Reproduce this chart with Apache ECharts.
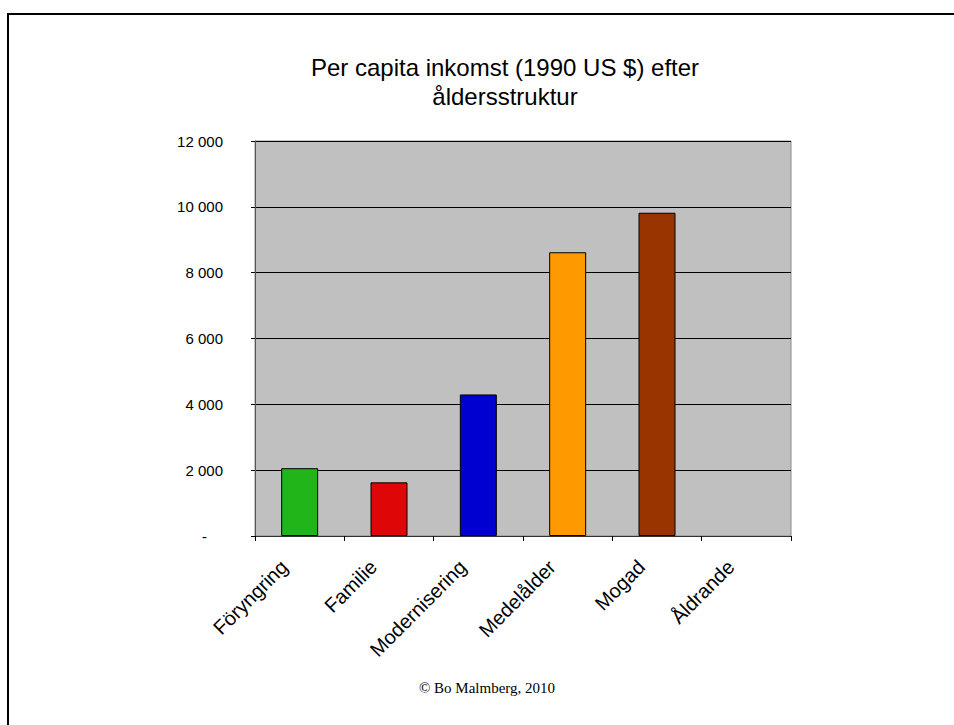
<!DOCTYPE html>
<html>
<head>
<meta charset="utf-8">
<script src="https://cdn.jsdelivr.net/npm/echarts@6/dist/echarts.min.js"></script>
<style>
html,body{margin:0;padding:0;background:#fff;}
#chart{width:954px;height:725px;}
</style>
</head>
<body>
<div id="chart"></div>
<script>
const categories = ['Föryngring', 'Familie', 'Modernisering', 'Medelålder', 'Mogad', 'Åldrande'];
const incomeValues = [2060, 1630, 4300, 8620, 9820, null];
const yTickValues = [0, 2000, 4000, 6000, 8000, 10000, 12000];
const yTickLabels = ['-', '2 000', '4 000', '6 000', '8 000', '10 000', '12 000'];
const titleLines = ['Per capita inkomst (1990 US $) efter', 'åldersstruktur'];
const footerText = '© Bo Malmberg, 2010';

const barColors = ['#21B51A', '#DE0606', '#0000D0', '#FF9900', '#993300', '#999999'];

const chart = echarts.init(document.getElementById('chart'), null, {renderer: 'svg'});
chart.setOption({
  animation: false,
  backgroundColor: '#ffffff',
  title: {
    text: titleLines.join('\n'),
    left: 500,
    top: 48,
    textAlign: 'center',
    textStyle: {
      fontFamily: 'Liberation Sans, Arial, sans-serif',
      fontSize: 24,
      fontWeight: 'normal',
      color: '#000',
      lineHeight: 29
    }
  },
  grid: {
    left: 255, right: 163, top: 141, bottom: 189,
    show: true,
    backgroundColor: '#C0C0C0',
    borderColor: '#8c8c8c',
    borderWidth: 1
  },
  xAxis: {
    type: 'category',
    data: categories,
    axisLine: {show: true, lineStyle: {color: '#333', width: 1}},
    axisTick: {show: true, length: 5, lineStyle: {color: '#000'}},
    axisLabel: {
      rotate: 45,
      interval: 0,
      margin: 12,
      padding: [0, 22, 0, 0],
      fontFamily: 'Liberation Sans, Arial, sans-serif',
      fontSize: 20,
      color: '#000'
    }
  },
  yAxis: {
    type: 'value',
    min: 0, max: 12000, interval: 2000,
    axisLine: {show: true, lineStyle: {color: '#555', width: 1}},
    axisTick: {show: true, length: 4, lineStyle: {color: '#000'}},
    splitLine: {show: true, lineStyle: {color: '#000', width: 1}},
    axisLabel: {
      margin: 32,
      fontFamily: 'Liberation Sans, Arial, sans-serif',
      fontSize: 15,
      color: '#000',
      formatter: function (v) {
        const i = yTickValues.indexOf(v);
        if (i < 0) return '';
        return v === 0 ? '{z|' + yTickLabels[i] + '}' : yTickLabels[i];
      },
      rich: {
        z: {fontFamily: 'Liberation Sans, Arial, sans-serif', fontSize: 15, color: '#000', padding: [0, 16, 0, 0]}
      }
    }
  },
  series: [{
    type: 'bar',
    barWidth: 37,
    data: incomeValues.map(function (v, i) {
      return {value: v, itemStyle: {color: barColors[i], borderColor: '#000', borderWidth: 1}};
    })
  }],
  graphic: [
    {type: 'line', shape: {x1: 7, y1: 14, x2: 954, y2: 14}, style: {stroke: '#000', lineWidth: 2}},
    {type: 'line', shape: {x1: 8, y1: 13, x2: 8, y2: 725}, style: {stroke: '#000', lineWidth: 2}},
    {type: 'text', x: 487, y: 688, style: {text: footerText, fill: '#000', font: '15px "Liberation Serif", "Times New Roman", serif', textAlign: 'center', textVerticalAlign: 'middle'}}
  ]
});
</script>
</body>
</html>
